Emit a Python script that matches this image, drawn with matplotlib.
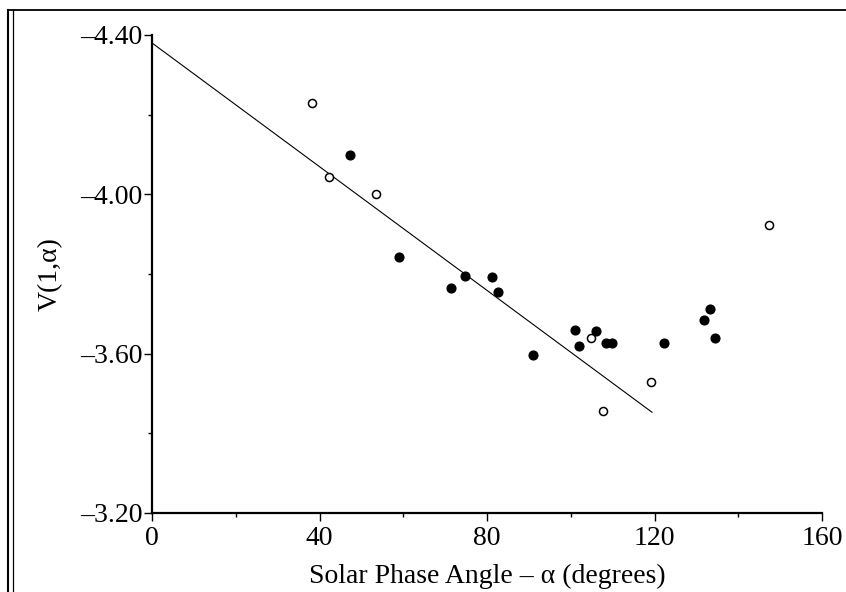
import matplotlib
matplotlib.use("Agg")
import matplotlib.pyplot as plt
from matplotlib.lines import Line2D
from matplotlib.ticker import MultipleLocator, FuncFormatter

# Data
open_x = [38.3, 42.3, 53.6, 104.8, 107.7, 119.1, 147.3]
open_y = [-4.229, -4.043, -4.001, -3.640, -3.456, -3.530, -3.923]

filled_x = [47.4, 59.0, 71.4, 74.7, 81.3, 82.6, 90.9, 101.1, 101.9, 106.0,
            108.4, 109.8, 122.2, 131.8, 133.2, 134.5]
filled_y = [-4.100, -3.843, -3.764, -3.796, -3.792, -3.754, -3.597, -3.660,
            -3.619, -3.656, -3.627, -3.627, -3.627, -3.684, -3.713, -3.640]

fit_x = [0, 119.4]
fit_y = [-4.38, -3.453]

x_ticks = [0, 40, 80, 120, 160]
y_ticks = [-4.40, -4.00, -3.60, -3.20]

plt.rcParams['font.family'] = ['Liberation Serif', 'DejaVu Serif']
plt.rcParams['axes.unicode_minus'] = True

fig = plt.figure(figsize=(8.46, 5.92), dpi=100)
ax = fig.add_axes([152/846, 1-513/592, (822-152)/846, (513-35)/592])

ax.plot(fit_x, fit_y, color='black', lw=0.8)
ax.plot(filled_x, filled_y, 'o', color='black', ms=6.3, mec='black')
ax.plot(open_x, open_y, 'o', mfc='white', mec='black', ms=5.8, mew=1.1)

ax.set_xlim(0, 160)
ax.set_ylim(-3.20, -4.40)
ax.set_xticks(x_ticks)
ax.set_yticks(y_ticks)
ax.xaxis.set_minor_locator(MultipleLocator(20))
ax.yaxis.set_minor_locator(MultipleLocator(0.2))
ax.xaxis.set_major_formatter(FuncFormatter(lambda v, p: f"{v:.0f}"))
ax.yaxis.set_major_formatter(FuncFormatter(lambda v, p: f"\u2013{abs(v):.2f}"))

for s in ['top', 'right']:
    ax.spines[s].set_visible(False)
for s in ['left', 'bottom']:
    ax.spines[s].set_linewidth(1.6)

ax.tick_params(which='major', direction='out', length=5.5, width=1.0, labelsize=20, pad=1.5)
ax.tick_params(axis='x', which='major', pad=4)
ax.tick_params(which='minor', direction='out', length=3, width=1.0)

ax.set_xlabel("Solar Phase Angle \u2013 \u03b1 (degrees)", fontsize=20, labelpad=9)
ax.set_ylabel("V(1,\u03b1)", fontsize=20, labelpad=12)

# outer frame lines
fig.add_artist(Line2D([8/846, 8/846], [0, 1-10/592], color='black', lw=1.5, transform=fig.transFigure))
fig.add_artist(Line2D([13/846, 13/846], [0, 1-10/592], color='black', lw=0.9, transform=fig.transFigure))
fig.add_artist(Line2D([8/846, 1], [1-10/592, 1-10/592], color='black', lw=1.3, transform=fig.transFigure))

fig.savefig("out.png", dpi=100)
